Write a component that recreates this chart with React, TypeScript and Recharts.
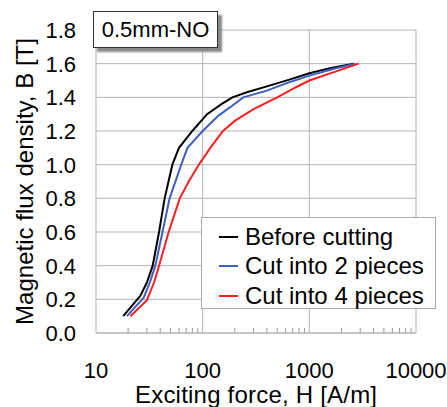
import {
  LineChart,
  Line,
  XAxis,
  YAxis,
  CartesianGrid,
  ReferenceLine,
  Legend,
} from 'recharts';

// H [A/m] and B [T]
const beforeH = [18, 26, 30, 34, 39, 44, 52, 60, 80, 110, 150, 190, 260, 400, 650, 1000, 1600, 2600];
const beforeB = [0.1, 0.22, 0.3, 0.4, 0.6, 0.8, 1.0, 1.1, 1.2, 1.3, 1.36, 1.4, 1.43, 1.465, 1.505, 1.543, 1.575, 1.6];

const cut2H = [19.5, 28, 32, 36, 42, 49, 63, 72, 100, 140, 180, 240, 400, 650, 1000, 1700, 2700];
const cut2B = [0.1, 0.21, 0.3, 0.4, 0.6, 0.8, 1.0, 1.1, 1.2, 1.29, 1.34, 1.4, 1.44, 1.49, 1.529, 1.57, 1.6];

const cut4H = [21, 30, 35, 39, 48, 61, 74, 92, 118, 155, 200, 300, 500, 750, 1000, 1700, 2900];
const cut4B = [0.1, 0.195, 0.3, 0.4, 0.6, 0.8, 0.9, 1.0, 1.1, 1.2, 1.26, 1.33, 1.4, 1.46, 1.5, 1.55, 1.6];

const majorTicks = [10, 100, 1000, 10000];
const minorTicks = [20, 30, 40, 50, 60, 70, 80, 90, 200, 300, 400, 500, 600, 700, 800, 900, 2000, 3000, 4000, 5000, 6000, 7000, 8000, 9000];
const yTicks = [0, 0.2, 0.4, 0.6, 0.8, 1.0, 1.2, 1.4, 1.6, 1.8];

const toPoints = (hs: number[], bs: number[]) => hs.map((h, i) => ({ H: h, B: bs[i] }));

const series = [
  { name: 'Before cutting', color: '#000000', data: toPoints(beforeH, beforeB) },
  { name: 'Cut into 2 pieces', color: '#3d5fc0', data: toPoints(cut2H, cut2B) },
  { name: 'Cut into 4 pieces', color: '#ff1e1e', data: toPoints(cut4H, cut4B) },
];

const FONT = '"Liberation Sans", Arial, sans-serif';
const GRID = '#b4b4b4';

const XTick = (props: any) => {
  const { x, y, payload } = props;
  if (majorTicks.includes(payload.value)) {
    return (
      <text x={x} y={y + 45} textAnchor="middle" fontSize={22} fill="#000" fontFamily={FONT}>
        {payload.value}
      </text>
    );
  }
  return <line x1={x} x2={x} y1={y} y2={y - 5} stroke="#999" strokeWidth={1} />;
};

const YTick = (props: any) => {
  const { x, y, payload } = props;
  return (
    <text x={x - 20} y={y + 8} textAnchor="end" fontSize={22} fill="#000" fontFamily={FONT}>
      {payload.value.toFixed(1)}
    </text>
  );
};

const LegendBox = () => (
  <div
    style={{
      background: '#fff',
      border: '1px solid #aaa',
      boxSizing: 'border-box',
      width: 235,
      height: 92,
      paddingTop: 4,
      fontFamily: FONT,
      fontSize: 24,
    }}
  >
    {series.map((s) => (
      <div key={s.name} style={{ display: 'flex', alignItems: 'center', height: 29.5, whiteSpace: 'nowrap' }}>
        <span style={{ display: 'inline-block', width: 19, height: 2, background: s.color, marginLeft: 17, marginRight: 7 }} />
        <span>{s.name}</span>
      </div>
    ))}
  </div>
);

export default function App() {
  return (
    <div style={{ position: 'absolute', left: 0, top: 0, width: 447, height: 407, background: '#fff', overflow: 'hidden' }}>
      <LineChart width={447} height={407} margin={{ top: 30, right: 31, bottom: 0, left: 0 }}>
        <CartesianGrid vertical={false} stroke={GRID} />
        <XAxis
          dataKey="H"
          type="number"
          scale="log"
          domain={[10, 10000]}
          ticks={[...majorTicks, ...minorTicks]}
          allowDataOverflow
          height={74}
          tickSize={0}
          tickMargin={0}
          tick={<XTick />}
          axisLine={{ stroke: GRID }}
          interval={0}
          label={{
            content: ({ viewBox }: any) => (
              <text
                x={viewBox.x + viewBox.width / 2}
                y={viewBox.y + 70}
                textAnchor="middle"
                fontSize={24}
                fontFamily={FONT}
                fill="#000"
                textLength={242}
                lengthAdjust="spacing"
              >
                Exciting force, H [A/m]
              </text>
            ),
          }}
        />
        <YAxis
          type="number"
          domain={[0, 1.8]}
          ticks={yTicks}
          width={96}
          tickSize={0}
          tickMargin={0}
          tick={<YTick />}
          axisLine={{ stroke: GRID }}
          interval={0}
          label={{
            content: ({ viewBox }: any) => (
              <text
                transform={`translate(33, ${viewBox.y + viewBox.height / 2}) rotate(-90)`}
                textAnchor="middle"
                fontSize={24}
                fontFamily={FONT}
                fill="#000"
                textLength={287}
                lengthAdjust="spacing"
              >
                Magnetic flux density, B [T]
              </text>
            ),
          }}
        />
        <ReferenceLine x={100} stroke={GRID} />
        <ReferenceLine x={1000} stroke={GRID} />
        <ReferenceLine x={10000} stroke={GRID} />
        <Legend
          layout="vertical"
          align="center"
          verticalAlign="middle"
          content={<LegendBox />}
          wrapperStyle={{ left: 201, top: 217, width: 235, height: 92 }}
        />
        {series.map((s) => (
          <Line
            key={s.name}
            data={s.data}
            dataKey="B"
            name={s.name}
            type="linear"
            stroke={s.color}
            strokeWidth={2}
            dot={false}
            isAnimationActive={false}
          />
        ))}
      </LineChart>
      <div
        style={{
          position: 'absolute',
          left: 93,
          top: 11,
          width: 125,
          height: 37,
          boxSizing: 'border-box',
          border: '1px solid #333',
          background: '#fff',
          boxShadow: '4px 4px 2px #888',
          fontFamily: FONT,
          fontSize: 22,
          display: 'flex',
          alignItems: 'center',
          justifyContent: 'center',
        }}
      >
        0.5mm-NO
      </div>
    </div>
  );
}
